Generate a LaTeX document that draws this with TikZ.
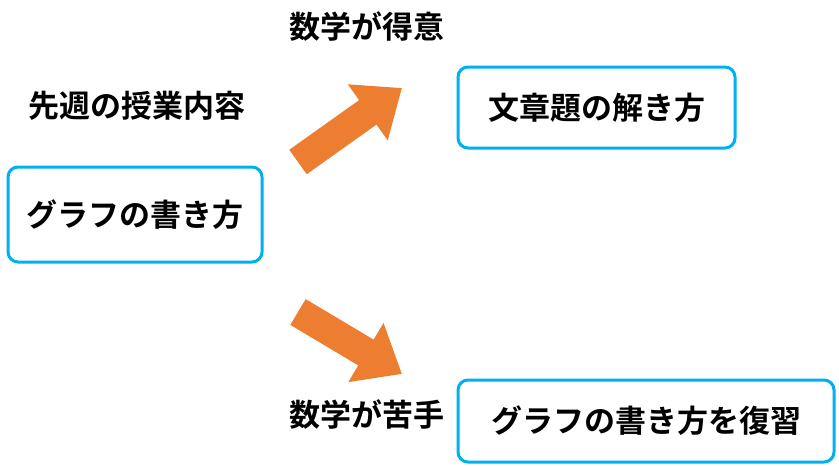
\documentclass[tikz,border=0pt]{standalone}
\usepackage{fontspec}
\setmainfont{Noto Sans CJK JP}[BoldFont={* Bold}]
\usetikzlibrary{arrows.meta}
\definecolor{bx}{RGB}{0,176,240}
\definecolor{ar}{RGB}{237,125,49}
\begin{document}
\begin{tikzpicture}[x=1pt,y=-1pt,
  box/.style={draw=bx,line width=3pt,rounded corners=10pt,inner sep=0pt,font=\fontsize{31}{36}\selectfont\bfseries},
  lbl/.style={font=\fontsize{31}{36}\selectfont\bfseries},
  big/.style={line width=30pt,draw=ar,-{Triangle[length=42pt,width=66pt]}}]
\useasboundingbox (0,0) rectangle (839,466);
\node[box,minimum width=254pt,minimum height=95pt] (a) at (135,214.5) {グラフの書き方};
\node[box,minimum width=277pt,minimum height=81pt] (b) at (596.5,107.5) {文章題の解き方};
\node[box,minimum width=376pt,minimum height=82pt] (c) at (646,421) {グラフの書き方を復習};
\node[lbl] (t1) at (367,27) {数学が得意};
\node[lbl] (t2) at (137,106) {先週の授業内容};
\node[lbl] (t3) at (367,415) {数学が苦手};
\coordinate (s1) at (298,162);
\coordinate (e1) at (402,88);
\coordinate (s2) at (298,312);
\coordinate (e2) at (402,374);
\draw[big] (s1) -- (e1);
\draw[big] (s2) -- (e2);
\end{tikzpicture}
\end{document}
